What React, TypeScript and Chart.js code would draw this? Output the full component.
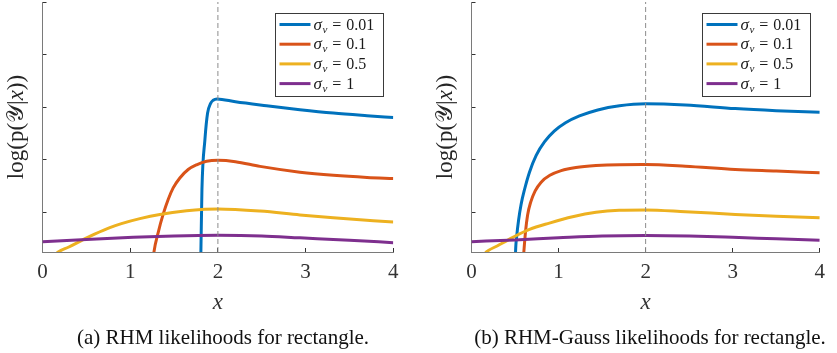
import React, { useEffect, useRef } from 'react';
import { Chart, registerables } from 'chart.js';

Chart.register(...registerables);

// ---------- data ----------
const X_TICKS = [0, 1, 2, 3, 4];
const Y_TICKS = [0, 1, 2, 3, 4];
const X_MIN = 0;
const X_MAX = 4;
const Y_MIN = -0.76;
const Y_MAX = 4;
const MARKER_X = 2;

const SIGMA_VALUES = ['0.01', '0.1', '0.5', '1'];
const COLORS = ['#0072BD', '#D95319', '#EDB120', '#7E2F8E'];

const CAPTION_A = '(a) RHM likelihoods for rectangle.';
const CAPTION_B = '(b) RHM-Gauss likelihoods for rectangle.';
const X_TITLE = 'x';

// panel (a) RHM
const A_X_001 = [1.80, 1.806, 1.818, 1.852, 1.882, 1.917, 1.946, 1.99, 2.2, 2.555, 2.935, 3.316, 3.7, 4.0];
const A_Y_001 = [-1.2, -0.76, 0.43, 1.38, 1.88, 2.07, 2.13, 2.155, 2.10, 2.025, 1.95, 1.885, 1.835, 1.80];
const A_X_01 = [1.25, 1.27, 1.319, 1.376, 1.433, 1.49, 1.566, 1.661, 1.757, 1.871, 2.0, 2.2, 2.48, 2.935, 3.316, 3.7, 4.0];
const A_Y_01 = [-1.1, -0.77, -0.39, -0.04, 0.24, 0.46, 0.65, 0.81, 0.90, 0.967, 0.986, 0.96, 0.87, 0.76, 0.70, 0.66, 0.64];
const A_X_05 = [0.15, 0.179, 0.3, 0.464, 0.6, 0.768, 0.9, 1.11, 1.338, 1.643, 1.85, 2.0, 2.48, 2.935, 3.316, 4.0];
const A_Y_05 = [-0.8, -0.76, -0.665, -0.525, -0.415, -0.295, -0.22, -0.125, -0.045, 0.025, 0.052, 0.06, 0.02, -0.055, -0.11, -0.19];
const A_X_1 = [0, 0.5, 1.034, 1.5, 2.0, 2.5, 2.935, 3.5, 4.0];
const A_Y_1 = [-0.563, -0.52, -0.48, -0.455, -0.443, -0.455, -0.49, -0.535, -0.582];

// panel (b) RHM-Gauss
const B_X_001 = [0.50, 0.506, 0.52, 0.541, 0.57, 0.609, 0.666, 0.743, 0.84, 0.95, 1.08, 1.24, 1.45, 1.7, 2.0, 2.457, 3.029, 3.5, 4.0];
const B_Y_001 = [-1.2, -0.76, -0.45, -0.15, 0.15, 0.43, 0.76, 1.08, 1.34, 1.54, 1.70, 1.83, 1.945, 2.025, 2.063, 2.04, 1.97, 1.93, 1.90];
const B_X_01 = [0.59, 0.601, 0.62, 0.645, 0.68, 0.73, 0.80, 0.90, 1.03, 1.2, 1.43, 1.7, 2.0, 2.457, 3.029, 3.5, 4.0];
const B_Y_01 = [-1.0, -0.76, -0.38, -0.05, 0.19, 0.40, 0.57, 0.70, 0.79, 0.85, 0.887, 0.903, 0.905, 0.873, 0.81, 0.78, 0.747];
const B_X_05 = [0.15, 0.171, 0.3, 0.476, 0.666, 0.895, 1.161, 1.43, 1.695, 2.0, 2.457, 3.029, 3.5, 4.0];
const B_Y_05 = [-0.8, -0.76, -0.64, -0.48, -0.33, -0.21, -0.09, -0.005, 0.033, 0.04, 0.006, -0.044, -0.08, -0.108];
const B_X_1 = [0, 0.5, 1.0, 1.5, 2.0, 2.5, 3.0, 3.5, 4.0];
const B_Y_1 = [-0.563, -0.53, -0.49, -0.455, -0.445, -0.455, -0.48, -0.51, -0.538];

const Y_TITLE_PARTS: [string, string][] = [
  ['log(p(', 'normal'],
  ['𝒴', 'normal'],
  ['|', 'normal'],
  ['x', 'italic'],
  ['))', 'normal'],
];

const SERIF = '"Liberation Serif", "DejaVu Serif", serif';

type Series = { xs: number[]; ys: number[] };

const yTitlePlugin = {
  id: 'yTitleMixed',
  afterDraw(chart: any) {
    const { ctx, chartArea } = chart;
    const size = 23;
    ctx.save();
    ctx.translate(chartArea.left - 20, (chartArea.top + chartArea.bottom) / 2);
    ctx.rotate(-Math.PI / 2);
    ctx.textBaseline = 'alphabetic';
    ctx.textAlign = 'left';
    ctx.fillStyle = '#262626';
    let total = 0;
    const widths = Y_TITLE_PARTS.map(([t, st]) => {
      ctx.font = `${st} ${size}px ${SERIF}`;
      const w = ctx.measureText(t).width;
      total += w;
      return w;
    });
    let x = -total / 2;
    Y_TITLE_PARTS.forEach(([t, st], i) => {
      ctx.font = `${st} ${size}px ${SERIF}`;
      ctx.fillText(t, x, 0);
      x += widths[i];
    });
    ctx.restore();
  },
};

const legendPlugin = {
  id: 'sigmaLegend',
  afterDraw(chart: any) {
    const { ctx, chartArea } = chart;
    const w = 108;
    const h = 83;
    const bx = Math.round(chartArea.right - 10 - w) + 0.5;
    const by = Math.round(chartArea.top + 11) + 0.5;
    ctx.save();
    ctx.fillStyle = '#ffffff';
    ctx.fillRect(bx, by, w, h);
    ctx.strokeStyle = '#3a3a3a';
    ctx.lineWidth = 1;
    ctx.strokeRect(bx, by, w, h);
    SIGMA_VALUES.forEach((val, i) => {
      const ry = by + 11 + i * 19.7;
      ctx.strokeStyle = COLORS[i];
      ctx.lineWidth = 3;
      ctx.beginPath();
      ctx.moveTo(bx + 4, ry);
      ctx.lineTo(bx + 35, ry);
      ctx.stroke();
      let tx = bx + 38;
      const base = ry + 5;
      ctx.fillStyle = '#1a1a1a';
      ctx.textBaseline = 'alphabetic';
      ctx.textAlign = 'left';
      ctx.font = `italic 17px ${SERIF}`;
      ctx.fillText('σ', tx, base);
      tx += ctx.measureText('σ').width + 0.5;
      ctx.font = `italic 11px ${SERIF}`;
      ctx.fillText('v', tx, base + 3);
      tx += ctx.measureText('v').width + 5;
      ctx.font = `16px ${SERIF}`;
      ctx.fillText('=', tx, base);
      tx += ctx.measureText('=').width + 5;
      ctx.fillText(val, tx, base);
    });
    ctx.restore();
  },
};

function Panel(props: { series: Series[]; left: number; width: number; padLeft: number; padRight: number }) {
  const ref = useRef<HTMLCanvasElement>(null);
  useEffect(() => {
    const datasets: any[] = props.series.map((s, i) => ({
      label: 'σv = ' + SIGMA_VALUES[i],
      data: s.xs.map((x, j) => ({ x, y: s.ys[j] })),
      borderColor: COLORS[i],
      borderWidth: 3,
      pointRadius: 0,
      fill: false,
      cubicInterpolationMode: 'monotone',
      order: 4 - i,
    }));
    datasets.push({
      label: 'marker',
      data: [
        { x: MARKER_X, y: Y_MIN },
        { x: MARKER_X, y: Y_MAX },
      ],
      borderColor: '#8c8c8c',
      borderWidth: 1,
      borderDash: [5, 3],
      pointRadius: 0,
      fill: false,
      order: 0,
    });
    const gridOpts = {
      display: true,
      drawOnChartArea: false,
      drawTicks: true,
      tickLength: -4,
      color: '#333333',
      lineWidth: 1,
    };
    const borderOpts = { display: true, color: '#7a7a7a', width: 1 };
    const chart = new Chart(ref.current as HTMLCanvasElement, {
      type: 'line',
      data: { datasets },
      options: {
        animation: false,
        responsive: false,
        maintainAspectRatio: false,
        layout: { padding: { left: props.padLeft, right: props.padRight, top: 2, bottom: 36 } },
        plugins: { legend: { display: false }, tooltip: { enabled: false }, title: { display: false } },
        scales: {
          x: {
            type: 'linear',
            min: X_MIN,
            max: X_MAX,
            afterBuildTicks: (s: any) => {
              s.ticks = X_TICKS.map((v) => ({ value: v }));
            },
            afterFit: (s: any) => {
              s.height = 65;
            },
            grid: gridOpts,
            border: borderOpts,
            ticks: { color: '#333333', font: { family: SERIF, size: 21 }, padding: 12, maxRotation: 0 },
            title: {
              display: true,
              text: X_TITLE,
              color: '#333333',
              font: { family: SERIF, size: 23, style: 'italic' },
              padding: 0,
            },
          },
          y: {
            type: 'linear',
            min: Y_MIN,
            max: Y_MAX,
            afterBuildTicks: (s: any) => {
              s.ticks = Y_TICKS.map((v) => ({ value: v }));
            },
            afterFit: (s: any) => {
              s.width = 0;
            },
            grid: gridOpts,
            border: borderOpts,
            ticks: { display: false },
          },
        },
      } as any,
      plugins: [yTitlePlugin, legendPlugin],
    });
    return () => chart.destroy();
  }, []);
  return (
    <canvas
      ref={ref}
      width={props.width}
      height={353}
      style={{ position: 'absolute', left: props.left, top: 0, width: props.width, height: 353 }}
    />
  );
}

const SERIES_A: Series[] = [
  { xs: A_X_001, ys: A_Y_001 },
  { xs: A_X_01, ys: A_Y_01 },
  { xs: A_X_05, ys: A_Y_05 },
  { xs: A_X_1, ys: A_Y_1 },
];
const SERIES_B: Series[] = [
  { xs: B_X_001, ys: B_Y_001 },
  { xs: B_X_01, ys: B_Y_01 },
  { xs: B_X_05, ys: B_Y_05 },
  { xs: B_X_1, ys: B_Y_1 },
];

const captionStyle = (center: number): React.CSSProperties => ({
  position: 'absolute',
  left: center - 250,
  top: 325,
  width: 500,
  textAlign: 'center',
  fontFamily: SERIF,
  fontSize: 21,
  lineHeight: '25px',
  color: '#111111',
  whiteSpace: 'nowrap',
});

export default function App() {
  return (
    <div
      style={{
        position: 'fixed',
        left: 0,
        top: 0,
        width: 837,
        height: 353,
        background: '#ffffff',
        overflow: 'hidden',
      }}
    >
      <Panel series={SERIES_A} left={0} width={418} padLeft={42.5} padRight={24.7} />
      <Panel series={SERIES_B} left={418} width={419} padLeft={53.5} padRight={15.3} />
      <div style={captionStyle(223)}>{CAPTION_A}</div>
      <div style={captionStyle(650)}>{CAPTION_B}</div>
    </div>
  );
}
